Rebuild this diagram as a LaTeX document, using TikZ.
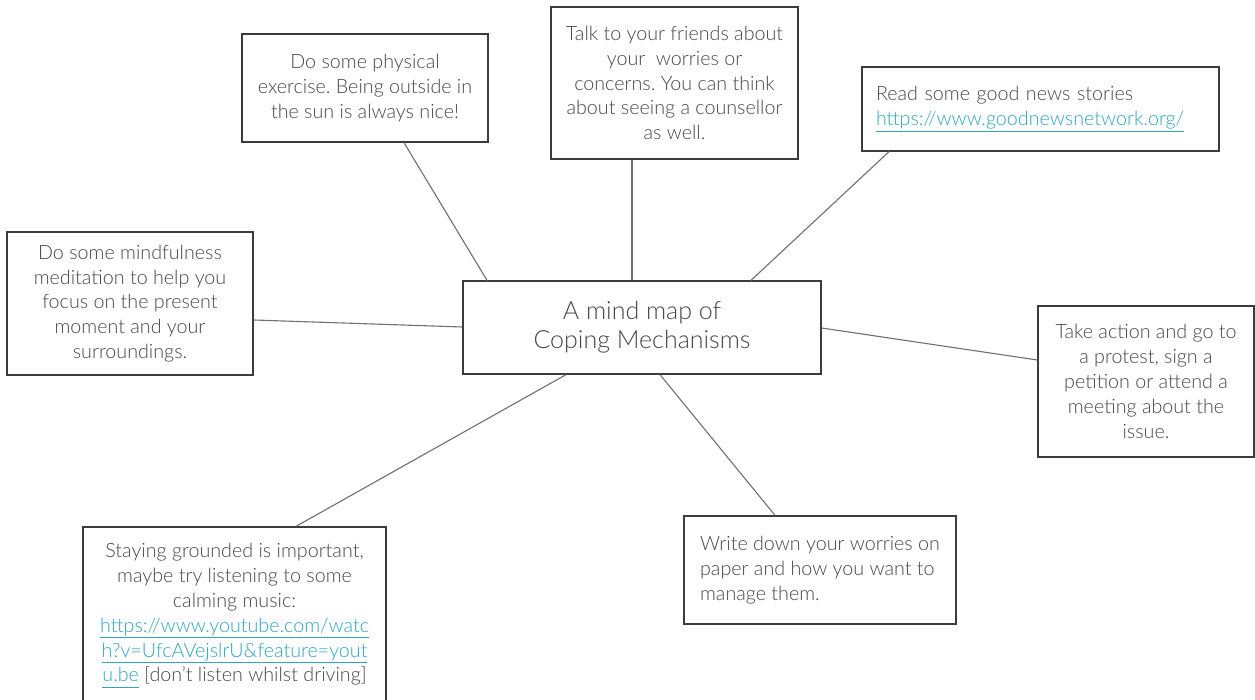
\documentclass[tikz,border=0pt]{standalone}
\usepackage{fontspec}
\setmainfont{Lato Light}
\usetikzlibrary{calc}
\definecolor{txt}{HTML}{474747}
\definecolor{linkc}{HTML}{2FA6BD}
\definecolor{edgec}{HTML}{3C3C3C}
\definecolor{connc}{HTML}{707070}
\newcommand{\lnk}[1]{\textcolor{linkc}{\underline{\vphantom{p}#1}}}
\frenchspacing
\begin{document}
\begin{tikzpicture}[x=1pt,y=-1pt,
  box/.style={draw=edgec, line width=1.3pt, text=txt, inner sep=0pt,
    font=\fontsize{19.7}{24.8}\selectfont},
  bigbox/.style={box, font=\fontsize{25}{29}\selectfont},
  conn/.style={draw=connc, line width=1.1pt}]
\useasboundingbox (0,0) rectangle (1255,700);
\fill[white] (0,0) rectangle (1255,700);

\node[bigbox, minimum width=358, minimum height=93, align=center] (center) at (642,327.5)
  {A mind map of\\Coping Mechanisms};

\node[box, minimum width=246, minimum height=108, align=center] (phys) at (365,88)
  {Do some physical\\exercise. Being outside in\\the sun is always nice!};

\node[box, minimum width=247, minimum height=152, align=center] (friends) at (674.5,83)
  {Talk to your friends about\\your\ \ worries or\\concerns. You can think\\about seeing a counsellor\\as well.};

\node[box, text width=329, inner xsep=14, minimum height=84, align=left] (news) at (1040.5,109)
  {Read some good news stories\\\lnk{https://www.goodnewsnetwork.org/}};

\node[box, minimum width=246, minimum height=143, align=center] (mind) at (130,303.5)
  {Do some mindfulness\\meditation to help you\\focus on the present\\moment and your\\surroundings.};

\node[box, minimum width=216, minimum height=151, align=center] (action) at (1146,381.5)
  {Take action and go to\\a protest, sign a\\petition or attend a\\meeting about the\\issue.};

\node[box, minimum width=303, minimum height=177, align=center] (staying) at (234.5,615.5)
  {Staying grounded is important,\\maybe try listening to some\\calming music:\\\lnk{https://www.youtube.com/watc}\\\lnk{h?v=UfcAVejslrU\&feature=yout}\\\lnk{u.be} [don’t listen whilst driving]};

\node[box, minimum width=272, minimum height=108, align=left] (write) at (820,570)
  {Write down your worries on\\paper and how you want to\\manage them.};

\draw[conn] ($(phys.south)+(39,0)$) -- ($(center.north)+(-155,0)$);
\draw[conn] ($(friends.south)+(-42.5,0)$) -- ($(center.north)+(-10,0)$);
\draw[conn] ($(news.south)+(-151.5,0)$) -- ($(center.north)+(109,0)$);
\draw[conn] ($(mind.east)+(0,16.5)$) -- ($(center.west)+(0,-0.5)$);
\draw[conn] ($(center.east)+(0,0.5)$) -- ($(action.west)+(0,-21.5)$);
\draw[conn] ($(staying.north)+(61.5,0)$) -- ($(center.south)+(-76,0)$);
\draw[conn] ($(center.south)+(18,0)$) -- ($(write.north)+(-45,0)$);
\end{tikzpicture}
\end{document}
